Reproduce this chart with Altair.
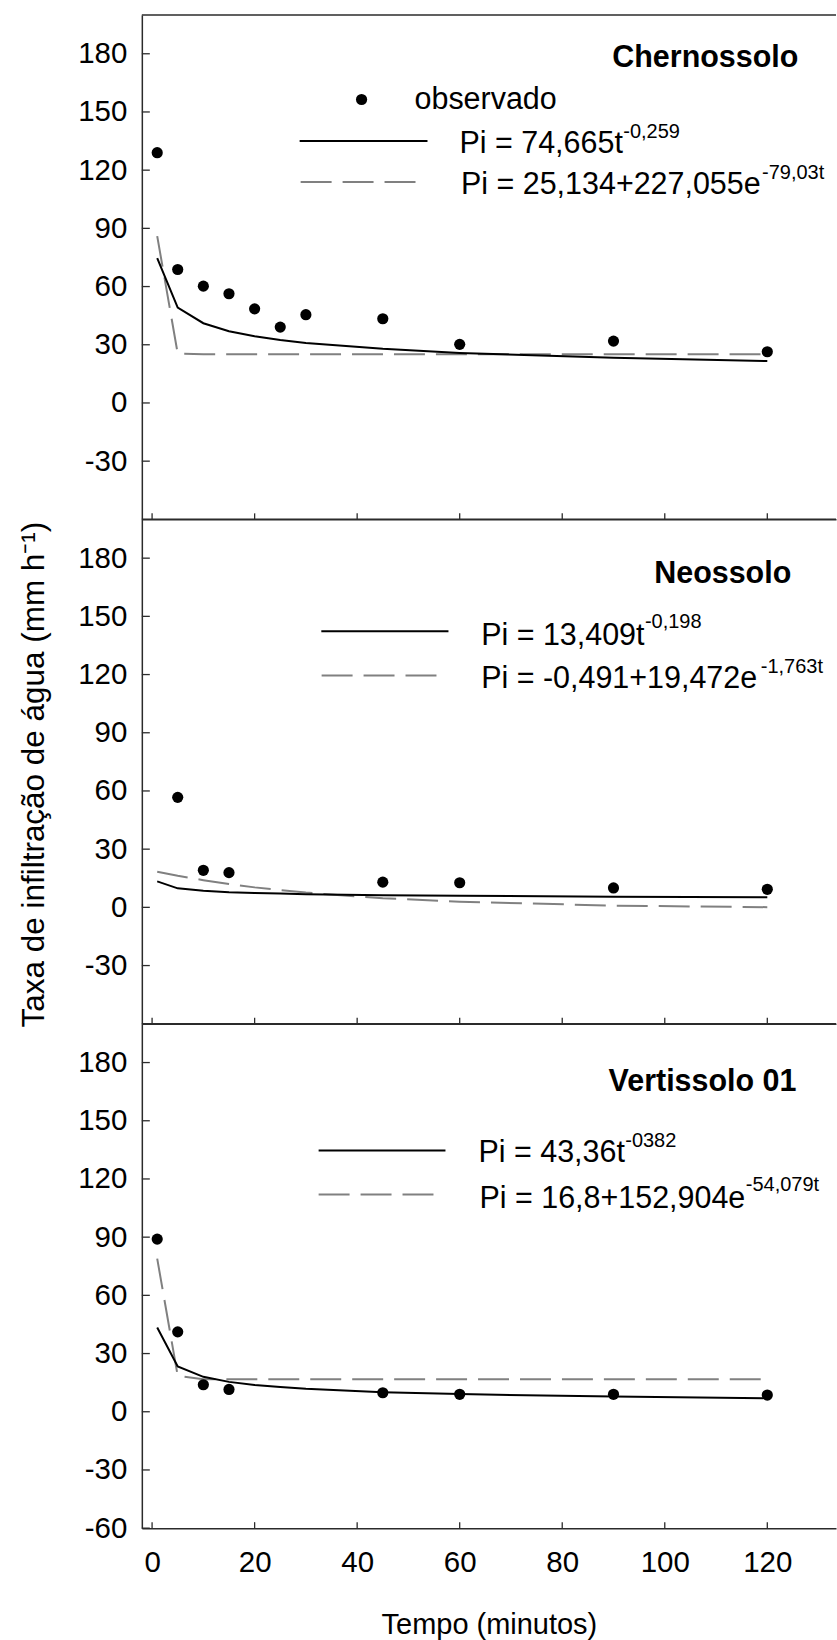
import altair as alt
import pandas as pd

# ---------------- data ----------------
times = [1, 5, 10, 15, 20, 25, 30, 45, 60, 90, 120]

cher_obs_t = [1, 5, 10, 15, 20, 25, 30, 45, 60, 90, 120]
cher_obs = [129.0, 68.8, 60.2, 56.3, 48.5, 39.1, 45.5, 43.4, 30.2, 31.9, 26.4]
cher_pow = [74.7, 49.2, 41.1, 37.0, 34.4, 32.4, 30.9, 27.9, 25.8, 23.3, 21.6]
cher_exp = [86.0, 25.4, 25.1, 25.1, 25.1, 25.1, 25.1, 25.1, 25.1, 25.1, 25.1]

neo_obs_t = [5, 10, 15, 45, 60, 90, 120]
neo_obs = [56.7, 19.1, 17.9, 13.0, 12.7, 10.0, 9.3]
neo_pow = [13.4, 9.8, 8.5, 7.8, 7.4, 7.1, 6.8, 6.3, 6.0, 5.5, 5.2]
neo_exp = [18.4, 16.3, 14.0, 12.0, 10.3, 8.9, 7.6, 4.7, 2.9, 0.9, 0.1]

ver_obs_t = [1, 5, 10, 15, 45, 60, 90, 120]
ver_obs = [89.0, 41.2, 13.9, 11.5, 9.8, 9.0, 9.0, 8.6]
ver_pow = [43.4, 23.4, 18.0, 15.4, 13.8, 12.7, 11.8, 10.1, 9.1, 7.8, 7.0]
ver_exp = [78.9, 18.5, 16.8, 16.8, 16.8, 16.8, 16.8, 16.8, 16.8, 16.8, 16.8]

x_ticks = [0, 20, 40, 60, 80, 100, 120]
y_ticks_upper = [-30, 0, 30, 60, 90, 120, 150, 180]
y_ticks_lower = [-60, -30, 0, 30, 60, 90, 120, 150, 180]

x_title = "Tempo (minutos)"
y_title = "Taxa de infiltração de água (mm h⁻¹)"

# ---------------- style ----------------
FONT = "Liberation Sans"
FRAME = "#2b2b2b"
W = 695
H = 505
DASH = [31, 11]
GREY = "#808080"

xscale = alt.Scale(domain=[-2, 133.4], nice=False, zero=False)
yscale = alt.Scale(domain=[-60, 200], nice=False, zero=False)
one = pd.DataFrame({"k": [0]})


def xenc(bottom):
    kw = dict(values=x_ticks, grid=False, ticks=False, tickSize=0, domain=True,
              domainColor=FRAME, domainWidth=1.5, labels=bottom, labelFont=FONT,
              labelFontSize=29.5, labelColor="black", labelPadding=20,
              labelFlush=False, labelExpr="'' + datum.value")
    if bottom:
        kw.update(title=x_title, titleFont=FONT, titleFontSize=29,
                  titleFontWeight="normal", titleColor="black",
                  titleBaseline="alphabetic", titleY=105)
        return alt.X("t:Q", scale=xscale, axis=alt.Axis(**kw))
    return alt.X("t:Q", scale=xscale, axis=alt.Axis(**kw), title=None)


def yenc(yvals, with_title):
    kw = dict(values=yvals, grid=False, ticks=False, tickSize=0, domain=True,
              domainColor=FRAME, domainWidth=1.5, labelFont=FONT,
              labelFontSize=29.5, labelColor="black", labelPadding=15,
              labelFlush=False, labelExpr="'' + datum.value")
    if with_title:
        kw.update(title=y_title, titleFont=FONT, titleFontSize=31.5,
                  titleFontWeight="normal", titleColor="black",
                  titleBaseline="alphabetic", titleX=-98, titleY=255,
                  titleAngle=270)
        return alt.Y("v:Q", scale=yscale, axis=alt.Axis(**kw))
    return alt.Y("v:Q", scale=yscale, axis=alt.Axis(**kw), title=None)


def txt(label, x, y, size, weight="normal"):
    return alt.Chart(pd.DataFrame({"label": [label]})).mark_text(
        align="left", baseline="alphabetic", font=FONT, fontSize=size,
        fontWeight=weight, color="black"
    ).encode(x=alt.value(x), y=alt.value(y), text="label:N")


def hline(x1, x2, y, dashed):
    if dashed:
        m = alt.Chart(one).mark_rule(color=GREY, strokeWidth=2, strokeDash=DASH)
    else:
        m = alt.Chart(one).mark_rule(color="black", strokeWidth=2)
    return m.encode(x=alt.value(x1), x2=alt.value(x2), y=alt.value(y))


def panel(obs_t, obs_v, pow_v, exp_v, yvals, bottom, with_title, legend):
    X = xenc(bottom)
    Y = yenc(yvals, with_title)
    exp_df = pd.DataFrame({"t": times, "v": exp_v})
    pow_df = pd.DataFrame({"t": times, "v": pow_v})
    obs_df = pd.DataFrame({"t": obs_t, "v": obs_v})

    exp_line = alt.Chart(exp_df).mark_line(color=GREY, strokeWidth=2,
                                           strokeDash=DASH).encode(x=X, y=Y)
    pow_line = alt.Chart(pow_df).mark_line(color="black", strokeWidth=2).encode(x=X, y=Y)
    pts = alt.Chart(obs_df).mark_circle(size=125, color="black", opacity=1).encode(x=X, y=Y)

    top_border = alt.Chart(one).mark_rule(color=FRAME, strokeWidth=1.5).encode(
        x=alt.value(0), x2=alt.value(W), y=alt.value(0))
    xt = alt.Chart(pd.DataFrame({"t": x_ticks})).mark_rule(
        color=FRAME, strokeWidth=1.3).encode(x=X, y=alt.value(H - 6), y2=alt.value(H))
    yt = alt.Chart(pd.DataFrame({"v": yvals})).mark_rule(
        color=FRAME, strokeWidth=1.3).encode(y=Y, x=alt.value(0), x2=alt.value(8))

    layers = [exp_line, pow_line, pts, top_border, xt, yt] + legend
    return alt.layer(*layers).properties(width=W, height=H)


# anchor that fixes the chart's top-left corner in the page
anchor = alt.Chart(one).mark_rule(opacity=0, strokeWidth=0).encode(
    x=alt.value(-142), x2=alt.value(-142), y=alt.value(-14), y2=alt.value(-13))

leg1 = [
    anchor,
    txt("Chernossolo", 471, 52, 30.5, "bold"),
    alt.Chart(one).mark_circle(size=125, color="black", opacity=1).encode(
        x=alt.value(220), y=alt.value(84.6)),
    txt("observado", 273, 94.6, 30.5),
    hline(158, 286, 126.3, False),
    txt("Pi = 74,665t", 318, 138, 30.5),
    txt("-0,259", 482, 123, 20),
    hline(159, 275, 167.3, True),
    txt("Pi = 25,134+227,055e", 319.5, 179, 30.5),
    txt("-79,03t", 621, 164.6, 20),
]

leg2 = [
    txt("Neossolo", 513, 64, 30.5, "bold"),
    hline(179.7, 307, 112, False),
    txt("Pi = 13,409t", 339.7, 125.3, 30.5),
    txt("-0,198", 503.7, 109, 20),
    hline(180, 295, 156.3, True),
    txt("Pi = -0,491+19,472e", 339.7, 168.6, 30.5),
    txt("-1,763t", 619.7, 153.6, 20),
]

leg3 = [
    txt("Vertissolo 01", 467.3, 67.8, 30.5, "bold"),
    hline(177, 304, 127, False),
    txt("Pi = 43,36t", 337, 138.4, 30.5),
    txt("-0382", 484, 123, 20),
    hline(177, 293, 171, True),
    txt("Pi = 16,8+152,904e", 338, 184, 30.5),
    txt("-54,079t", 604.7, 167, 20),
]

p1 = panel(cher_obs_t, cher_obs, cher_pow, cher_exp, y_ticks_upper, False, False, leg1)
p2 = panel(neo_obs_t, neo_obs, neo_pow, neo_exp, y_ticks_upper, False, True, leg2)
p3 = panel(ver_obs_t, ver_obs, ver_pow, ver_exp, y_ticks_lower, True, False, leg3)

chart = alt.vconcat(p1, p2, p3, spacing=0, bounds="flush").properties(
    padding=0, background="white"
).configure_view(strokeWidth=0)

chart.save("out.html", embed_options={"renderer": "svg", "actions": False})
